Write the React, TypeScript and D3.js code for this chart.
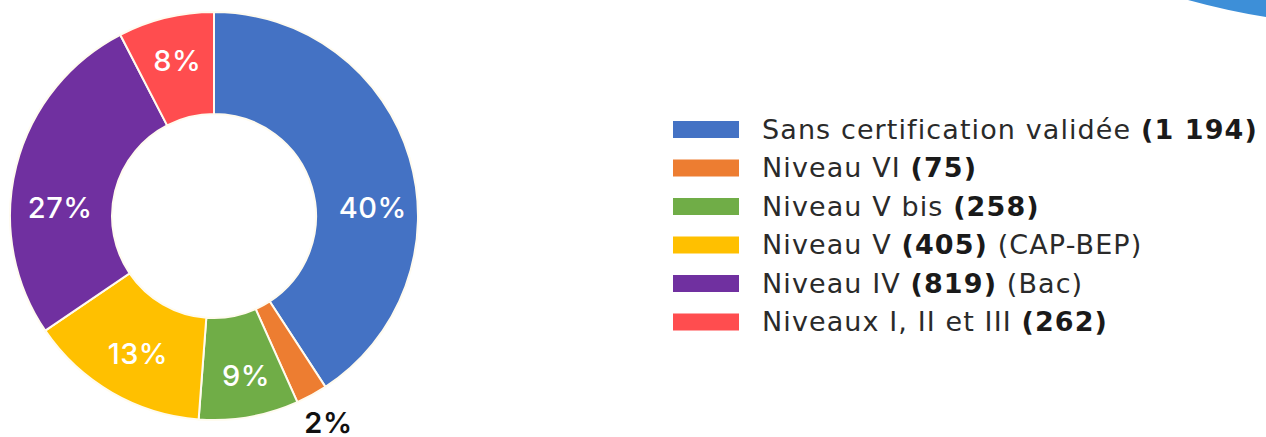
import React from "react";
import * as d3 from "d3";

// ---- data ----
const categories = [
  "Sans certification validée",
  "Niveau VI",
  "Niveau V bis",
  "Niveau V",
  "Niveau IV",
  "Niveaux I, II et III",
];
const counts = ["1 194", "75", "258", "405", "819", "262"];
const suffixes = ["", "", "", "(CAP-BEP)", "(Bac)", ""];
// slice shares (%) as drawn in the picture
const shares = [40.8, 2.5, 7.9, 14.3, 26.9, 7.6];
const pctLabels = ["40%", "2%", "9%", "13%", "27%", "8%"];

const colors = ["#4472C4", "#ED7D31", "#70AD47", "#FFC000", "#7030A0", "#FF4D4F"];

// ---- layout ----
const W = 1266;
const H = 437;
const cx = 214;
const cy = 216;
const outerR = 204;
const innerR = 102;
// label placement: angle (deg, clockwise from top) and radius
const labelAngle = [87, 151, 168.7, 209, 273, 346.7];
const labelRadius = [159, 236, 163, 157, 154, 160];
const labelInside = [true, false, true, true, true, true];

const FONT = "Inter, 'Open Sans', sans-serif";
const LEGEND_FONT = "'DejaVu Sans', Inter, sans-serif";

export default function App() {
  const pie = d3
    .pie<number>()
    .sort(null)
    .value((d) => d)
    .startAngle(0)
    .endAngle(2 * Math.PI);
  const arcs = pie(shares);
  const arc = d3.arc<d3.PieArcDatum<number>>().innerRadius(innerR).outerRadius(outerR);

  const rowY = d3
    .scaleLinear()
    .domain([0, categories.length - 1])
    .range([129.5, 322]);

  return (
    <svg
      width={W}
      height={H}
      style={{ position: "absolute", left: 0, top: 0, background: "#fff" }}
    >
      {/* decorative swoosh top right */}
      <path d="M1188,0 Q1228,11 1266,17 L1266,0 Z" fill="#3D8FD8" />

      <g transform={`translate(${cx},${cy})`}>
        {arcs.map((a, i) => (
          <path key={i} d={arc(a) || ""} fill={colors[i]} stroke="#FFFBEF" strokeWidth={2} />
        ))}
        {arcs.map((a, i) => {
          const ang = (labelAngle[i] * Math.PI) / 180;
          const r = labelRadius[i];
          const x = r * Math.sin(ang);
          const y = -r * Math.cos(ang);
          return (
            <text
              key={"l" + i}
              x={x}
              y={y}
              textAnchor="middle"
              dominantBaseline="central"
              fontFamily={FONT}
              fontSize={29}
              fontWeight={labelInside[i] ? 500 : 600}
              fill={labelInside[i] ? "#FFFFFF" : "#111111"}
              letterSpacing={0.5}
            >
              {pctLabels[i]}
            </text>
          );
        })}
      </g>

      <g>
        {categories.map((c, i) => (
          <g key={"g" + i}>
            <rect x={673} y={rowY(i) - 8.5} width={66} height={17} fill={colors[i]} />
            <text
              x={762}
              y={rowY(i) + 9}
              fontFamily={LEGEND_FONT}
              fontSize={27}
              letterSpacing={1.1}
              fill="#2a2a2a"
            >
              {c + " "}
              <tspan fontWeight={700} fill="#1a1a1a">{"(" + counts[i] + ")"}</tspan>
              {suffixes[i] ? " " + suffixes[i] : ""}
            </text>
          </g>
        ))}
      </g>
    </svg>
  );
}
